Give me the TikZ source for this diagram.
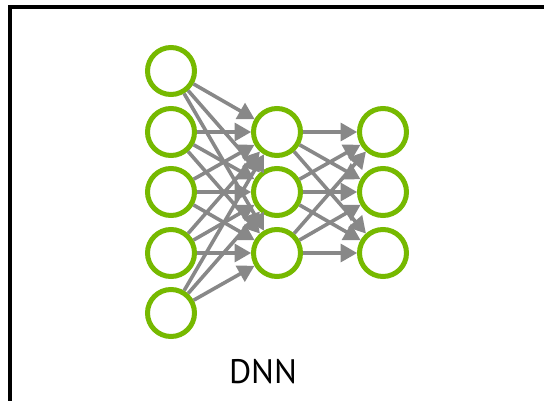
\documentclass[tikz,border=0pt]{standalone}
\usepackage{fontspec}
\setsansfont{PT Sans}
\usetikzlibrary{arrows}
\definecolor{nvgreen}{RGB}{118,185,0}
\definecolor{wgray}{RGB}{136,136,136}
\tikzset{neuron/.style={circle,draw=nvgreen,line width=5pt,fill=white,minimum size=47pt,inner sep=0pt}}

\begin{document}
\begin{tikzpicture}[x=1pt,y=-1pt]
\tikzstyle{wire} = [wgray,line width=3.6pt,-triangle 60]
\useasboundingbox (0,0) rectangle (544,400);
\clip (0,0) rectangle (544,400);
\draw[line width=3.5pt] (10,420) -- (10,7) -- (560,7);

% input layer
\node[neuron](in1) at (171, 71){};
\node[neuron](in2) at (171, 132){};
\node[neuron](in3) at (171, 192){};
\node[neuron](in4) at (171, 253){};
\node[neuron](in5) at (171, 313){};

% hidden layer
\node[neuron](hid1) at (277, 132){};
\node[neuron](hid2) at (277, 192){};
\node[neuron](hid3) at (277, 253){};

% output layer
\node[neuron](out1) at (383, 132){};
\node[neuron](out2) at (383, 192){};
\node[neuron](out3) at (383, 253){};

\foreach \i in {1,...,5}
  \foreach \j in {1,2,3}
    \draw[wire] (in\i) -- (hid\j);
\foreach \i in {1,2,3}
  \foreach \j in {1,2,3}
    \draw[wire] (hid\i) -- (out\j);

\node(title) at (263, 372){\sffamily\fontsize{34}{40}\selectfont DNN};
\end{tikzpicture}
\end{document}
